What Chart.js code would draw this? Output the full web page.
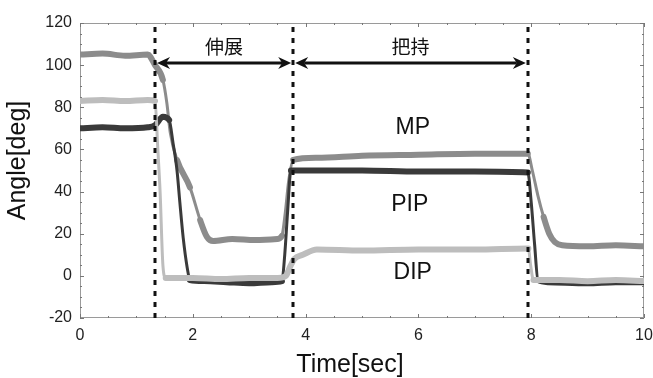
<!DOCTYPE html>
<html>
<head>
<meta charset="utf-8">
<script src="https://cdn.jsdelivr.net/npm/chart.js@4.4.0/dist/chart.umd.min.js"></script>
<style>
  html, body { margin: 0; padding: 0; background: #fff; }
  #wrap { width: 653px; height: 378px; }
</style>
</head>
<body>
<div id="wrap"><canvas id="angleChart"></canvas></div>
<script>
// ---- data (time in sec, angle in deg) ----
const mpTime  = [0, 0.4, 0.8, 1.2, 1.33, 1.47, 1.54, 1.6, 1.72, 1.95, 2.13, 2.25, 2.36, 2.7, 3.1, 3.5, 3.58, 3.64, 3.7, 3.78, 4.2, 5.0, 6.0, 7.0, 7.94, 8.02, 8.12, 8.22, 8.32, 8.42, 8.55, 9.0, 9.5, 10];
const mpAngle = [105, 105.5, 104.5, 105, 100, 93, 82, 68, 55, 42, 26.5, 18.5, 16.5, 17.5, 17, 17.5, 19, 30, 45, 55, 56, 57, 57.5, 58, 58, 50, 38, 28, 20, 16, 14.5, 14, 14.5, 14];

const pipTime  = [0, 0.4, 0.8, 1.2, 1.33, 1.47, 1.58, 1.65, 1.72, 1.77, 1.83, 1.9, 1.95, 2.2, 2.6, 3.0, 3.4, 3.58, 3.63, 3.68, 3.74, 4.2, 5.0, 6.0, 7.0, 7.94, 8.0, 8.06, 8.12, 8.3, 9.0, 9.5, 10];
const pipAngle = [70, 70.5, 70, 70.5, 71.5, 75.5, 74, 63, 50, 35, 18, 4, -2, -2.5, -3, -3.5, -3, -2.5, 10, 30, 50, 50, 50, 49.5, 49.5, 49, 35, 15, -2, -3, -3.5, -3, -3];

const dipTime  = [0, 0.4, 0.8, 1.2, 1.33, 1.38, 1.42, 1.47, 1.52, 2.0, 2.5, 3.0, 3.5, 3.65, 3.72, 3.8, 3.95, 4.2, 5.0, 6.0, 7.0, 7.95, 7.99, 8.04, 8.5, 9.0, 9.5, 10];
const dipAngle = [83, 83.5, 83, 83.5, 83, 60, 40, 5, -1, -1, -1.5, -1, -1, 0, 4, 8, 10, 12.5, 12, 12.5, 12.5, 13, 5, -2, -2, -2.5, -2, -2.5];

const phaseBounds = [1.33, 3.78, 7.94];   // dashed lines
const phaseNames  = ['伸展', '把持'];
const arrowAngle  = 101;
const jointNames  = ['MP', 'PIP', 'DIP'];

const xTickStep = 2, yTickStep = 20;
const xRange = [0, 10], yRange = [-20, 120];

const pts = (t, v) => t.map((x, i) => ({ x, y: v[i] }));
const latin = '"Liberation Sans", Arial, sans-serif';
const cjk = '"Noto Sans CJK JP", "Noto Sans CJK SC", sans-serif';

const overlay = {
  id: 'overlay',
  beforeDatasetsDraw(chart) {
    const { ctx, chartArea: a, scales: { x, y } } = chart;
    ctx.save();
    ctx.strokeStyle = '#9a9a9a';
    ctx.lineWidth = 1;
    ctx.strokeRect(a.left + 0.5, a.top + 0.5, a.width - 1, a.height - 1);
    // small inward ticks
    ctx.strokeStyle = '#777';
    for (let t = xRange[0]; t <= xRange[1] + 1e-9; t += 0.5) {
      const px = Math.round(x.getPixelForValue(t)) + 0.5;
      const len = (Math.abs(t % 2) < 1e-9) ? 4 : 2;
      ctx.beginPath();
      ctx.moveTo(px, a.bottom); ctx.lineTo(px, a.bottom - len);
      ctx.moveTo(px, a.top); ctx.lineTo(px, a.top + len);
      ctx.stroke();
    }
    for (let v = yRange[0]; v <= yRange[1] + 1e-9; v += 5) {
      const py = Math.round(y.getPixelForValue(v)) + 0.5;
      const len = (Math.abs(v % 20) < 1e-9) ? 4 : 2;
      ctx.beginPath();
      ctx.moveTo(a.left, py); ctx.lineTo(a.left + len, py);
      ctx.moveTo(a.right, py); ctx.lineTo(a.right - len, py);
      ctx.stroke();
    }
    ctx.restore();
  },
  afterDatasetsDraw(chart) {
    const { ctx, chartArea: a, scales: { x, y } } = chart;
    ctx.save();

    // phase boundaries
    ctx.strokeStyle = '#111';
    ctx.lineWidth = 3;
    ctx.setLineDash([5, 6]);
    phaseBounds.forEach(t => {
      const px = Math.round(x.getPixelForValue(t));
      ctx.beginPath();
      ctx.moveTo(px, a.top + 4);
      ctx.lineTo(px, a.bottom + 5);
      ctx.stroke();
    });
    ctx.setLineDash([]);

    // double arrows + phase names
    const ay = y.getPixelForValue(arrowAngle);
    ctx.fillStyle = '#111';
    const head = (tip, dir) => {
      ctx.beginPath();
      ctx.moveTo(tip, ay);
      ctx.lineTo(tip + dir * 13, ay - 6);
      ctx.lineTo(tip + dir * 9, ay);
      ctx.lineTo(tip + dir * 13, ay + 6);
      ctx.closePath();
      ctx.fill();
    };
    ctx.lineWidth = 3;
    ctx.font = '19px ' + cjk;
    ctx.textAlign = 'center';
    ctx.textBaseline = 'middle';
    for (let i = 0; i < phaseNames.length; i++) {
      const x1 = x.getPixelForValue(phaseBounds[i]) + 2;
      const x2 = x.getPixelForValue(phaseBounds[i + 1]) - 2;
      ctx.beginPath();
      ctx.moveTo(x1 + 9, ay); ctx.lineTo(x2 - 9, ay);
      ctx.stroke();
      head(x1, 1); head(x2, -1);
      ctx.fillText(phaseNames[i], (x1 + x2) / 2, ay - 16);
    }

    // joint labels
    ctx.font = '23px ' + latin;
    ctx.fillStyle = '#111';
    const lx = x.getPixelForValue(5.9);
    ctx.fillText(jointNames[0], lx, y.getPixelForValue(70.5));
    ctx.fillText(jointNames[1], lx - 3, y.getPixelForValue(34));
    ctx.fillText(jointNames[2], lx, y.getPixelForValue(1.5));

    // axis titles
    ctx.font = '25px ' + latin;
    ctx.fillStyle = '#111';
    ctx.fillText('Time[sec]', a.left + 270, 365);
    ctx.save();
    ctx.translate(18, (a.top + a.bottom) / 2 - 10);
    ctx.rotate(-Math.PI / 2);
    ctx.fillText('Angle[deg]', 0, 0);
    ctx.restore();

    ctx.restore();
  }
};

// fast transitions were sampled sparsely in the original, so draw them thinner
const steepWidth = c => {
  const dx = Math.abs(c.p1.x - c.p0.x), dy = Math.abs(c.p1.y - c.p0.y);
  return dy / Math.max(dx, 0.5) > 3 ? 3 : undefined;
};

const lineStyle = {
  pointRadius: 0,
  borderWidth: 6,
  cubicInterpolationMode: 'monotone',
  borderJoinStyle: 'round',
  borderCapStyle: 'round',
  fill: false,
  segment: { borderWidth: steepWidth }
};

new Chart(document.getElementById('angleChart'), {
  type: 'line',
  data: {
    datasets: [
      { label: jointNames[2], data: pts(dipTime, dipAngle), borderColor: '#bdbdbd', ...lineStyle, order: 1 },
      { label: jointNames[1], data: pts(pipTime, pipAngle), borderColor: '#3a3a3a', ...lineStyle, order: 2 },
      { label: jointNames[0], data: pts(mpTime, mpAngle), borderColor: '#8c8c8c', ...lineStyle, order: 3 }
    ]
  },
  options: {
    responsive: true,
    maintainAspectRatio: false,
    animation: false,
    layout: { padding: { top: 23, right: 0, left: 0, bottom: 0 } },
    plugins: { legend: { display: false }, tooltip: { enabled: false } },
    scales: {
      x: {
        type: 'linear', min: xRange[0], max: xRange[1],
        ticks: { stepSize: xTickStep, padding: 8, color: '#222', font: { size: 16, family: latin } },
        grid: { display: false, drawTicks: false },
        border: { display: false },
        afterFit: s => { s.height = 60; s.paddingRight = 9; s.paddingLeft = 0; }
      },
      y: {
        min: yRange[0], max: yRange[1],
        ticks: { stepSize: yTickStep, padding: 8, color: '#222', font: { size: 16, family: latin } },
        grid: { display: false, drawTicks: false },
        border: { display: false },
        afterFit: s => { s.width = 80; }
      }
    }
  },
  plugins: [overlay]
});
</script>
</body>
</html>
